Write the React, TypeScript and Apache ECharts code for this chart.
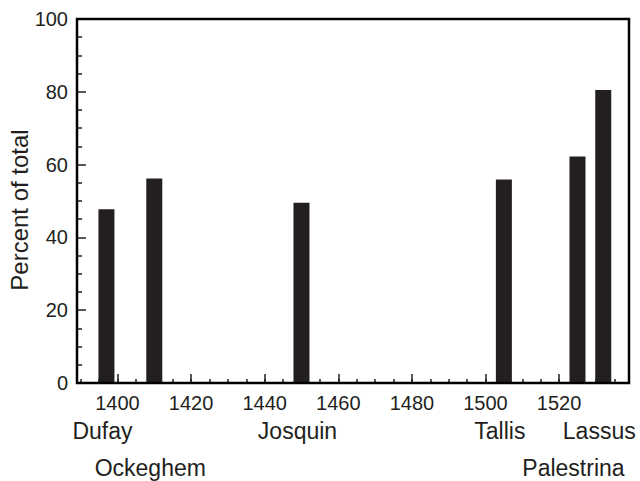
import React, { useEffect, useRef } from "react";
import * as echarts from "echarts";

const composers = ["Dufay", "Ockeghem", "Josquin", "Tallis", "Palestrina", "Lassus"];
const years = [1397, 1410, 1450, 1505, 1525, 1532];
const percents = [47.7, 56.2, 49.5, 55.9, 62.2, 80.5];
const nameRows = [0, 1, 0, 0, 1, 0];
const majorYearTicks = [1400, 1420, 1440, 1460, 1480, 1500, 1520];
const minorYearTicks = [
  1390, 1395, 1400, 1405, 1410, 1415, 1420, 1425, 1430, 1435, 1440, 1445, 1450,
  1455, 1460, 1465, 1470, 1475, 1480, 1485, 1490, 1495, 1500, 1505, 1510, 1515,
  1520, 1525, 1530, 1535,
];

const INK = "#231f20";
const FONT = "'Liberation Sans', Arial, Helvetica, sans-serif";

export default function App() {
  const ref = useRef<HTMLDivElement>(null);
  useEffect(() => {
    if (!ref.current) return;
    const chart = echarts.init(ref.current, null, { renderer: "svg" });
    const baseX = {
      type: "value" as const,
      min: 1389,
      max: 1539,
      position: "bottom" as const,
      splitLine: { show: false },
    };
    chart.setOption({
      animation: false,
      grid: {
        left: 77,
        right: 11,
        top: 19,
        bottom: 98,
        containLabel: false,
        show: false,
      },
      xAxis: [
        {
          ...baseX,
          axisLine: { show: true, onZero: false, lineStyle: { color: INK, width: 2 } },
          axisTick: {
            show: true,
            inside: true,
            length: 9,
            customValues: majorYearTicks,
            lineStyle: { color: INK, width: 1.5 },
          },
          axisLabel: {
            show: true,
            customValues: majorYearTicks,
            margin: 10,
            color: INK,
            fontFamily: FONT,
            fontSize: 20,
            formatter: (v: number) => String(v),
          },
        },
        {
          ...baseX,
          axisLine: { show: false },
          axisTick: {
            show: true,
            inside: true,
            length: 4,
            customValues: minorYearTicks,
            lineStyle: { color: INK, width: 1.5 },
          },
          axisLabel: { show: false },
        },
      ],
      yAxis: [
        {
          type: "value",
          min: 0,
          max: 100,
          interval: 20,
          position: "left",
          splitLine: { show: false },
          axisLine: { show: true, onZero: false, lineStyle: { color: INK, width: 2 } },
          axisTick: {
            show: true,
            inside: true,
            length: 9,
            lineStyle: { color: INK, width: 1.5 },
          },
          minorTick: {
            show: true,
            splitNumber: 4,
            length: 5,
            lineStyle: { color: INK, width: 1.5 },
          },
          axisLabel: {
            margin: 9,
            color: INK,
            fontFamily: FONT,
            fontSize: 20,
          },
        },
      ],
      series: [
        {
          type: "bar",
          xAxisIndex: 0,
          yAxisIndex: 0,
          barWidth: 16,
          itemStyle: { color: INK },
          data: years.map((y, i) => [y, percents[i]]),
        },
      ],
    });

    const tl = chart.convertToPixel({ xAxisIndex: 0, yAxisIndex: 0 }, [1389, 100]) as number[];
    const br = chart.convertToPixel({ xAxisIndex: 0, yAxisIndex: 0 }, [1539, 0]) as number[];

    const rowY = [431, 468];
    const elements: any[] = composers.map((name, i) => {
      const p = chart.convertToPixel({ xAxisIndex: 0, yAxisIndex: 0 }, [years[i], 0]) as number[];
      const cx = p[0] - 4;
      const approxW = name.length * 12;
      const right = cx + approxW / 2;
      const useRight = right > 638;
      return {
        type: "text",
        x: useRight ? 638 : cx,
        y: rowY[nameRows[i]],
        style: {
          text: name,
          fill: INK,
          font: `23px ${FONT}`,
          textAlign: useRight ? "right" : "center",
          textVerticalAlign: "middle",
        },
      };
    });
    elements.push({
      type: "text",
      x: 19,
      y: 210,
      rotation: Math.PI / 2,
      style: {
        text: "Percent of total",
        fill: INK,
        font: `24px ${FONT}`,
        textAlign: "center",
        textVerticalAlign: "middle",
      },
    });
    elements.push({
      type: "rect",
      shape: { x: tl[0], y: tl[1], width: br[0] - tl[0], height: br[1] - tl[1] },
      style: { fill: "none", stroke: "#000000", lineWidth: 2.5 },
      z: 10,
    });
    chart.setOption({ graphic: elements });

    return () => chart.dispose();
  }, []);
  return (
    <div
      ref={ref}
      style={{ position: "fixed", left: 0, top: 0, width: 640, height: 481, background: "#fff" }}
    />
  );
}
